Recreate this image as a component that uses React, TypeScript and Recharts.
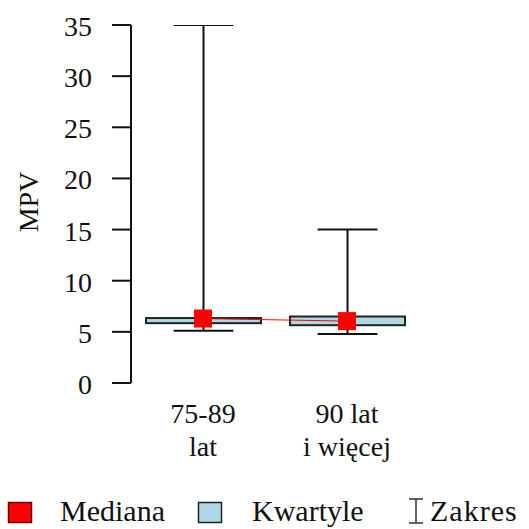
import { ComposedChart, Bar, Line, XAxis, YAxis, Legend, Label } from 'recharts'

const groups = ['75-89\nlat', '90 lat\ni więcej']
const minValues = [5.1, 4.8]
const q1Values = [5.85, 5.65]
const medianValues = [6.3, 6.05]
const q3Values = [6.35, 6.5]
const maxValues = [35, 15]
const yTicks = [0, 5, 10, 15, 20, 25, 30, 35]
const legendLabels = ['Mediana', 'Kwartyle', 'Zakres']

const data = groups.map((name, i) => ({
  name,
  median: medianValues[i],
  base: minValues[i],
  lower: q1Values[i] - minValues[i],
  box: q3Values[i] - q1Values[i],
  upper: maxValues[i] - q3Values[i],
}))

const INK = '#111'
const FONT = 'Liberation Serif, Times New Roman, serif'
const CAP = 0.52

const LowerWhisker = (p: any) => {
  const cx = p.x + p.width / 2
  const half = (p.width * CAP) / 2
  const bottom = p.y + p.height
  return (
    <g stroke={INK} strokeWidth={2}>
      <line x1={cx} x2={cx} y1={p.y} y2={bottom} />
      <line x1={cx - half} x2={cx + half} y1={bottom} y2={bottom} />
    </g>
  )
}

const UpperWhisker = (p: any) => {
  const cx = p.x + p.width / 2
  const half = (p.width * CAP) / 2
  return (
    <g stroke={INK} strokeWidth={2}>
      <line x1={cx} x2={cx} y1={p.y} y2={p.y + p.height} />
      <line x1={cx - half} x2={cx + half} y1={p.y} y2={p.y} />
    </g>
  )
}

const QuartileBox = (p: any) => (
  <rect x={p.x} y={p.y} width={p.width} height={p.height} fill="#add8e6" stroke="#222" strokeWidth={2} />
)

const MedianDot = (p: any) => (
  <rect key={p.index} x={p.cx - 9} y={p.cy - 9} width={18} height={18} fill="#ff0000" />
)

const textStyle = { fontFamily: FONT, fontSize: 28, fill: INK }

const CategoryTick = ({ x, y, payload }: any) => {
  const lines = String(payload.value).split('\n')
  return (
    <text x={x} y={y} textAnchor="middle" style={textStyle}>
      {lines.map((l, i) => (
        <tspan key={i} x={x} dy={i === 0 ? 40 : 33}>
          {l}
        </tspan>
      ))}
    </text>
  )
}

const ValueTick = ({ x, y, payload }: any) => (
  <text x={x} y={y} dy={11} textAnchor="end" style={textStyle}>
    {payload.value}
  </text>
)

// legend drawn as its own small svg strip
const LegendContent = () => (
  <svg width={529} height={39} style={{ display: 'block', fontFamily: FONT, fontSize: 30 }}>
    <rect x={8.5} y={12.5} width={23} height={20} fill="#ff0000" stroke="#6b0000" strokeWidth={1.5} />
    <text x={60} y={31} fill={INK}>{legendLabels[0]}</text>
    <rect x={198.5} y={12.5} width={23} height={20} fill="#add8e6" stroke="#222" strokeWidth={1.5} />
    <text x={252} y={31} fill={INK}>{legendLabels[1]}</text>
    <g stroke="#333" strokeWidth={1.5}>
      <line x1={409} x2={423} y1={9} y2={9} />
      <line x1={416} x2={416} y1={9} y2={33} />
      <line x1={409} x2={423} y1={33} y2={33} />
    </g>
    <text x={430} y={31} fill={INK} letterSpacing={1}>{legendLabels[2]}</text>
  </svg>
)

export default function App() {
  return (
    <div style={{ position: 'absolute', left: 0, top: 0, fontFamily: FONT, background: '#fff' }}>
      <ComposedChart width={529} height={529} data={data} margin={{ top: 25, right: 110, bottom: 56, left: 0 }}>
        <XAxis
          dataKey="name"
          axisLine={false}
          tickLine={false}
          tickSize={0}
          tickMargin={0}
          height={90}
          interval={0}
          tick={<CategoryTick />}
        />
        <YAxis
          width={131}
          domain={[0, 35]}
          ticks={yTicks}
          allowDataOverflow
          tickSize={19}
          tickMargin={20}
          axisLine={{ stroke: INK, strokeWidth: 2 }}
          tickLine={{ stroke: INK, strokeWidth: 2 }}
          tick={<ValueTick />}
        >
          <Label value="MPV" angle={-90} position="center" dx={-37} dy={-2} style={textStyle} />
        </YAxis>
        <Bar dataKey="base" stackId="b" barSize={115} fill="none" isAnimationActive={false} />
        <Bar dataKey="lower" stackId="b" barSize={115} shape={<LowerWhisker />} isAnimationActive={false} />
        <Bar dataKey="box" stackId="b" barSize={115} shape={<QuartileBox />} isAnimationActive={false} />
        <Bar dataKey="upper" stackId="b" barSize={115} shape={<UpperWhisker />} isAnimationActive={false} />
        <Line
          dataKey="median"
          type="linear"
          stroke="#ff0000"
          strokeWidth={1}
          dot={<MedianDot />}
          activeDot={false}
          isAnimationActive={false}
        />
        <Legend
          layout="horizontal"
          verticalAlign="middle"
          wrapperStyle={{ left: 0, top: 490, width: 529, height: 39 }}
          content={<LegendContent />}
        />
      </ComposedChart>
    </div>
  )
}
